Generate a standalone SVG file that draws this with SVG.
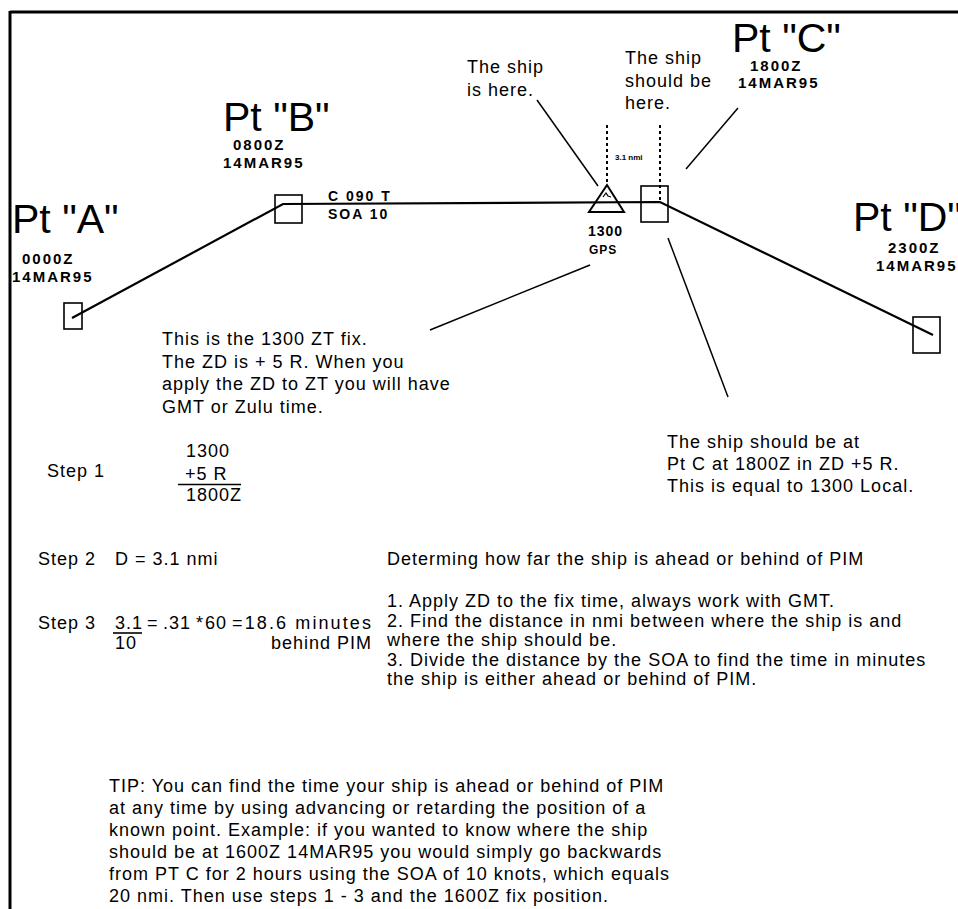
<svg xmlns="http://www.w3.org/2000/svg" width="958" height="909" viewBox="0 0 958 909">
<style>
text{font-family:"Liberation Sans",Arial,sans-serif;fill:#000}
.big{font-size:41px}
.lbl{font-size:15px;font-weight:bold;letter-spacing:2px}
.mid{font-size:14px;font-weight:bold;letter-spacing:2px}
.body{font-size:18px;letter-spacing:1px}
.box{fill:none;stroke:#000;stroke-width:1.6}
.course{fill:none;stroke:#000;stroke-width:2.2}
.lead{fill:none;stroke:#000;stroke-width:1.5}
.dot{fill:none;stroke:#000;stroke-width:2;stroke-dasharray:3,3}
</style>
<rect width="958" height="909" fill="#fff"/>
<g id="frame">
<line x1="10" y1="12" x2="958" y2="12" stroke="#000" stroke-width="3"/>
<line x1="10" y1="11" x2="10" y2="909" stroke="#000" stroke-width="3"/>
</g>
<g id="connectors">
<polyline class="course" points="72,318 283,204 660,202 933,335"/>
<line class="lead" x1="537" y1="100" x2="598" y2="186"/>
<line class="lead" x1="738" y1="108" x2="686" y2="169"/>
<line class="lead" x1="430" y1="330" x2="590" y2="265"/>
<line class="lead" x1="668" y1="238" x2="728" y2="397"/>
<line class="dot" x1="607" y1="125" x2="607" y2="185"/>
<line class="dot" x1="660" y1="125" x2="660" y2="202"/>
</g>
<g id="ptA">
<rect class="box" x="64" y="303" width="18" height="26"/>
<text class="big" x="12" y="233">Pt "A"</text>
<text class="lbl" x="22" y="264">0000Z</text>
<text class="lbl" x="12" y="282">14MAR95</text>
</g>
<g id="ptB">
<rect class="box" x="275" y="195" width="27" height="28"/>
<text class="big" x="223" y="131">Pt "B"</text>
<text class="lbl" x="233" y="150">0800Z</text>
<text class="lbl" x="223" y="168">14MAR95</text>
<text class="mid" x="328" y="201">C 090 T</text>
<text class="mid" x="328" y="219">SOA 10</text>
</g>
<g id="fix">
<polygon points="607,185 589,212 624,212" fill="none" stroke="#000" stroke-width="2"/>
<polyline points="603,197 606,193 608,196 611,197" fill="none" stroke="#000" stroke-width="1.2"/>
<text x="588" y="236" style="font-size:14px;font-weight:bold;letter-spacing:1px">1300</text>
<text x="589" y="254" style="font-size:12px;font-weight:bold;letter-spacing:1px">GPS</text>
<text x="615" y="160" style="font-size:8px;font-weight:bold">3.1 nmi</text>
<text class="body" x="467" y="73">The ship</text>
<text class="body" x="467" y="96">is here.</text>
</g>
<g id="ptC">
<rect class="box" x="641" y="186" width="27" height="36"/>
<text class="big" x="732" y="52">Pt "C"</text>
<text class="lbl" x="750" y="71">1800Z</text>
<text class="lbl" x="738" y="88">14MAR95</text>
<text class="body" x="625" y="64">The ship</text>
<text class="body" x="625" y="87">should be</text>
<text class="body" x="625" y="109">here.</text>
</g>
<g id="ptD">
<rect class="box" x="913" y="317" width="27" height="36"/>
<text class="big" x="853" y="231">Pt "D"</text>
<text class="lbl" x="888" y="253">2300Z</text>
<text class="lbl" x="876" y="271">14MAR95</text>
</g>
<g id="note-fix">
<text class="body" x="162" y="345">This is the 1300 ZT fix.</text>
<text class="body" x="162" y="367.5">The ZD is + 5 R. When you</text>
<text class="body" x="162" y="390">apply the ZD to ZT you will have</text>
<text class="body" x="162" y="412.5">GMT or Zulu time.</text>
</g>
<g id="note-ptc">
<text class="body" x="667" y="448">The ship should be at</text>
<text class="body" x="667" y="470">Pt C at 1800Z in ZD +5 R.</text>
<text class="body" x="667" y="492">This is equal to 1300 Local.</text>
</g>
<g id="step1">
<text class="body" x="47" y="477">Step 1</text>
<text class="body" x="186" y="457">1300</text>
<text class="body" x="185" y="480">+5 R</text>
<line x1="178" y1="484.5" x2="241" y2="484.5" stroke="#000" stroke-width="1.6"/>
<text class="body" x="186" y="501">1800Z</text>
</g>
<g id="step2">
<text class="body" x="38" y="565">Step 2</text>
<text class="body" x="115" y="565">D = 3.1 nmi</text>
</g>
<g id="step3">
<text class="body" x="38" y="629">Step 3</text>
<text class="body" x="115" y="629">3.1</text>
<line x1="113" y1="633" x2="142" y2="633" stroke="#000" stroke-width="1.6"/>
<text class="body" x="115" y="649">10</text>
<text class="body" x="147" y="629">=</text>
<text class="body" x="163" y="629">.31</text>
<text class="body" x="196" y="629">*</text>
<text class="body" x="205" y="629">60</text>
<text class="body" x="232" y="629" textLength="140" lengthAdjust="spacing">=18.6 minutes</text>
<text class="body" x="271" y="649">behind PIM</text>
</g>
<g id="method">
<text class="body" x="387" y="565">Determing how far the ship is ahead or behind of PIM</text>
<text class="body" x="387" y="607">1.  Apply ZD to the fix time, always work with GMT.</text>
<text class="body" x="387" y="626.5">2.  Find the distance in nmi between where the ship is and</text>
<text class="body" x="387" y="646">where the ship should be.</text>
<text class="body" x="387" y="665.5">3.  Divide the distance by the SOA to find the time in minutes</text>
<text class="body" x="387" y="685">the ship is either ahead or behind of PIM.</text>
</g>
<g id="tip">
<text class="body" x="109" y="792">TIP:  You can find the time your ship is ahead or behind of PIM</text>
<text class="body" x="109" y="814">at any time by using advancing or retarding the position of a</text>
<text class="body" x="109" y="836">known point.  Example:  if you wanted to know where the ship</text>
<text class="body" x="109" y="858">should be at 1600Z 14MAR95 you would simply go backwards</text>
<text class="body" x="109" y="880">from PT C for 2 hours using the SOA of 10 knots, which equals</text>
<text class="body" x="109" y="902">20 nmi.  Then use steps 1 - 3 and the 1600Z fix position.</text>
</g>
</svg>
